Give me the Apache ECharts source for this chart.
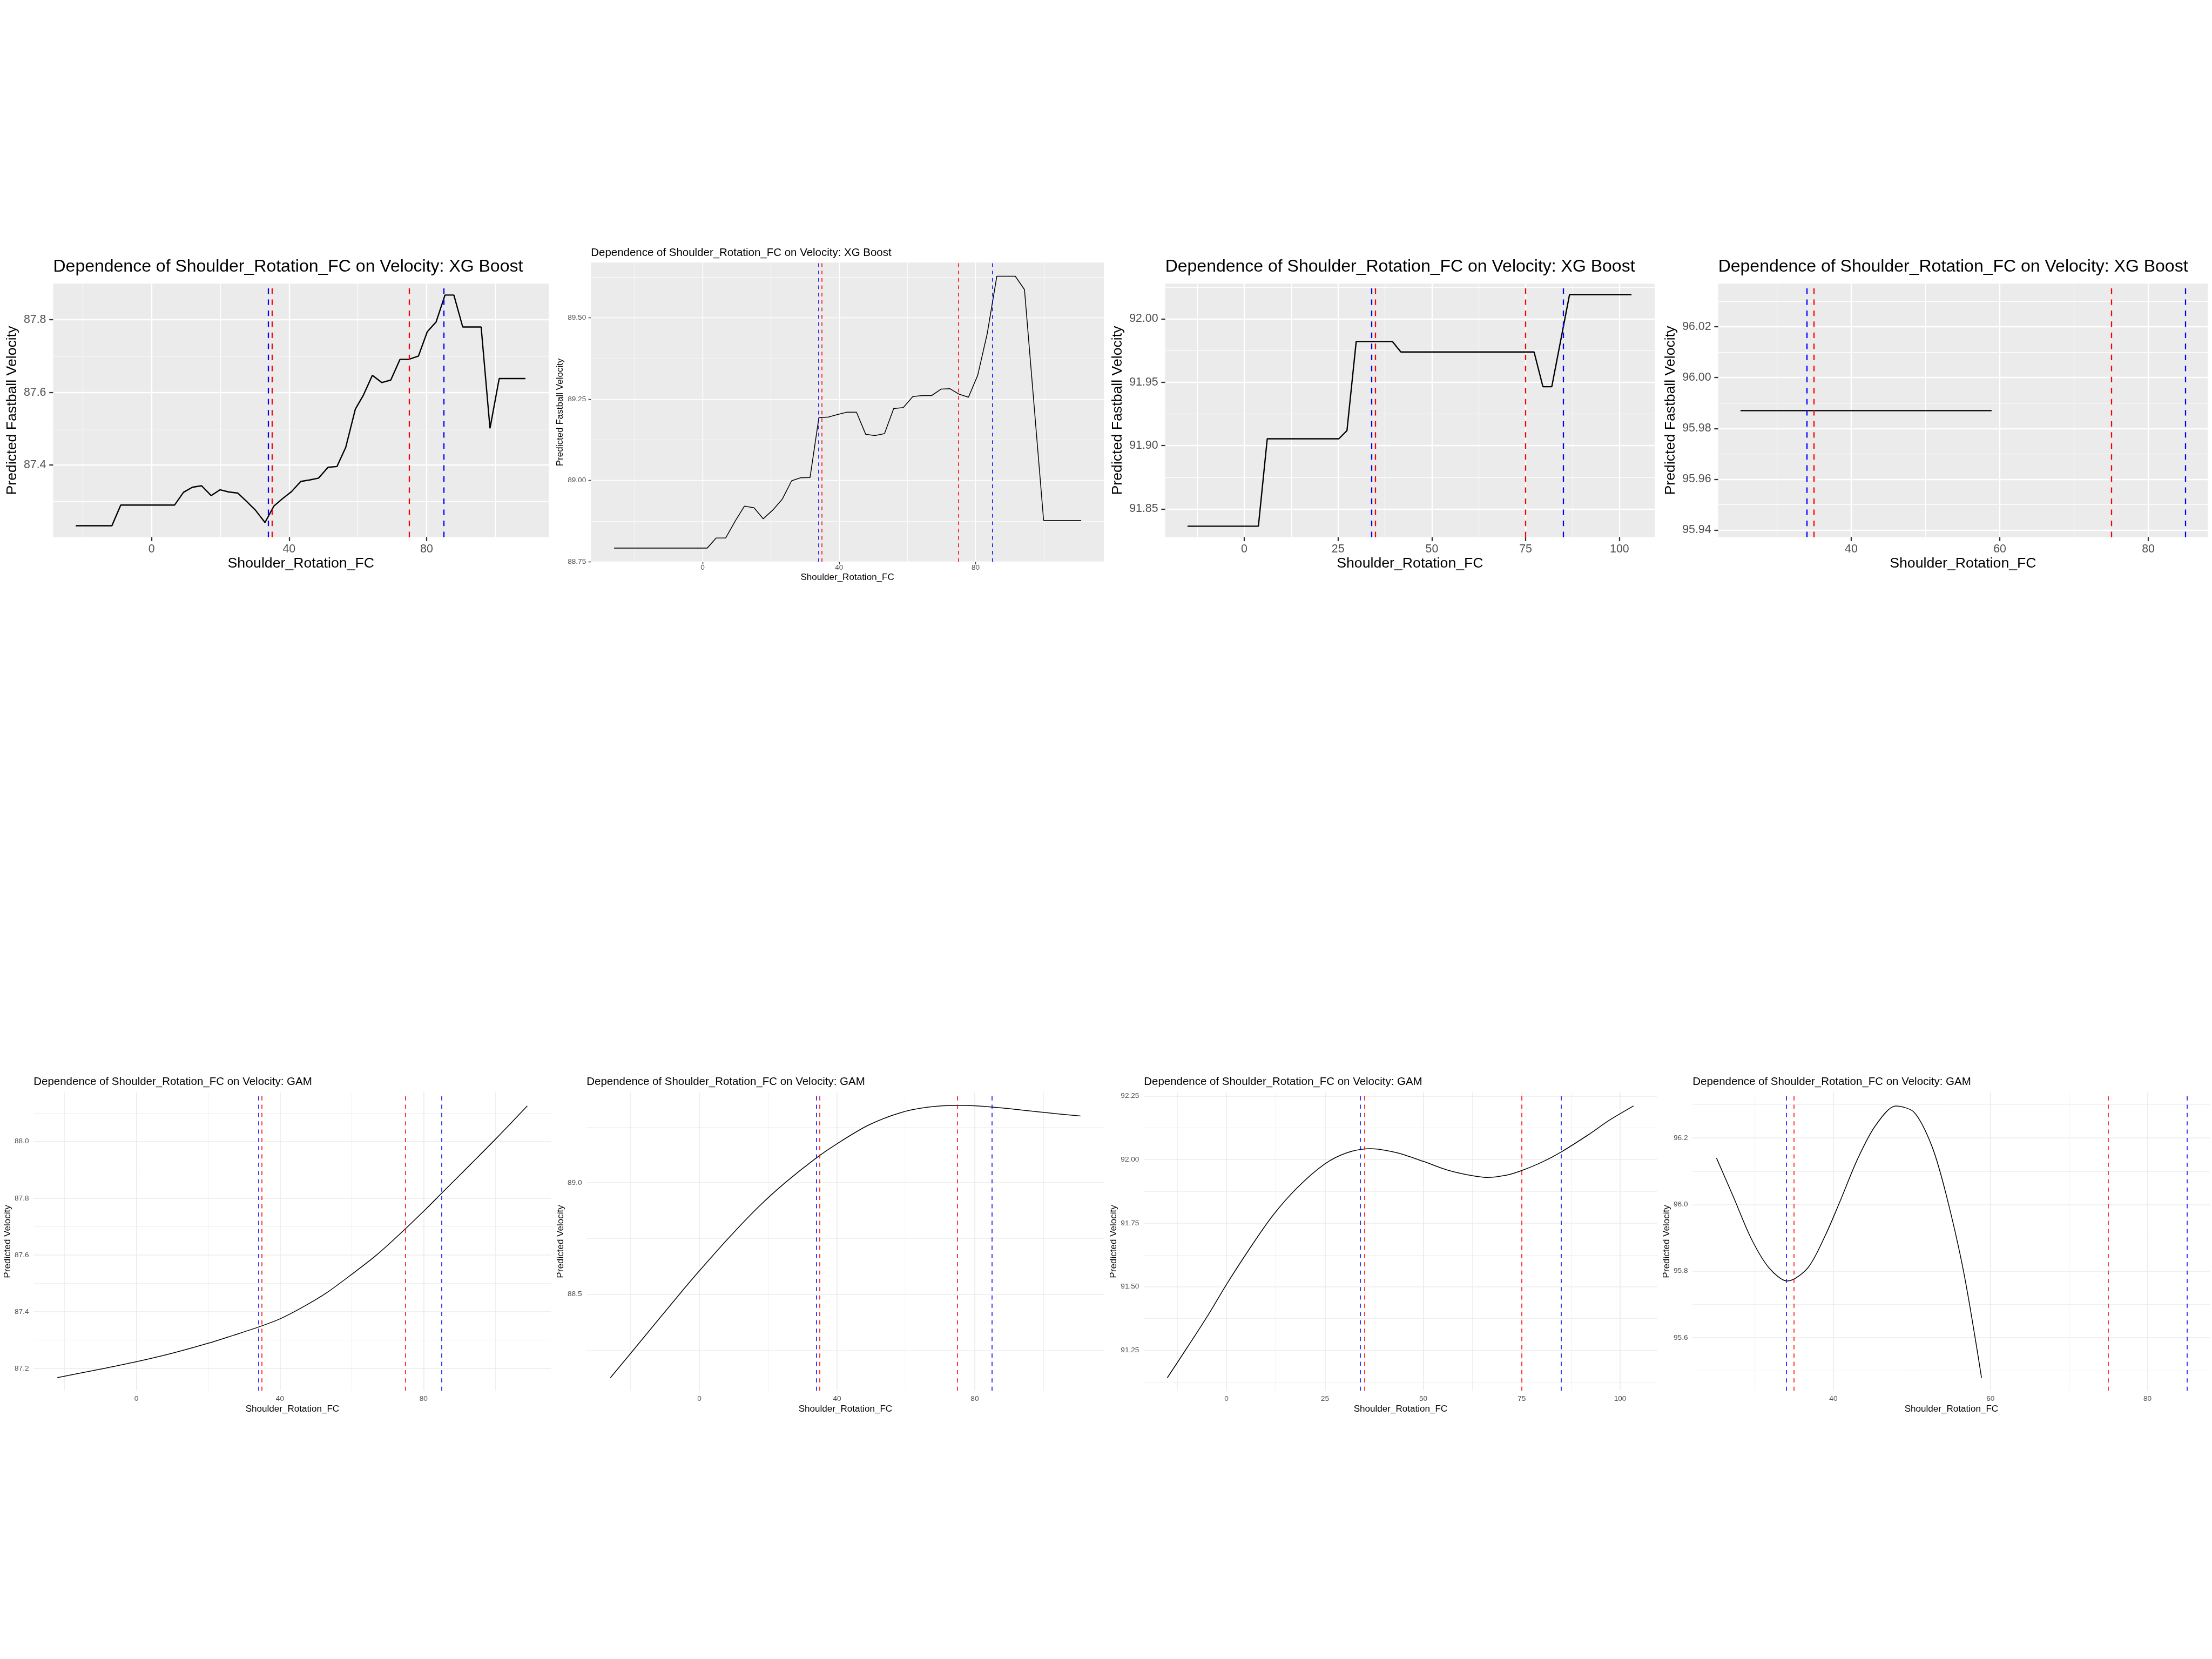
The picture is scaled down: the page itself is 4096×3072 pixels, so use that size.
<!DOCTYPE html>
<html><head><meta charset="utf-8">
<script src="https://cdn.jsdelivr.net/npm/echarts@6/dist/echarts.min.js"></script>
<style>html,body{margin:0;padding:0;background:#fff}#c{width:4096px;height:3072px}</style>
</head><body><div id="c"></div>
<script>
// ---------------- DATA ----------------
const TITLE_XGB = 'Dependence of Shoulder_Rotation_FC on Velocity: XG Boost';
const TITLE_GAM = 'Dependence of Shoulder_Rotation_FC on Velocity: GAM';
const X_NAME = 'Shoulder_Rotation_FC';
const Y_NAME_XGB = 'Predicted Fastball Velocity';
const Y_NAME_GAM = 'Predicted Velocity';

const redLines = [35, 75];
const blueLines = [34, 85];

// Panel 1: XG Boost
const xgb1X = [-22.06, -11.55, -8.97, 6.70, 9.28, 11.86, 14.54, 17.32, 19.90, 22.47, 25.05, 27.63, 30.21, 32.99, 35.57, 38.14, 40.72, 43.40, 45.98, 48.56, 51.34, 53.92, 56.49, 59.28, 61.65, 64.23, 67.01, 69.59, 72.27, 74.85, 77.63, 80.21, 82.78, 85.36, 87.94, 90.52, 95.88, 98.45, 101.13, 108.76];
const xgb1Y = [87.233, 87.233, 87.290, 87.290, 87.325, 87.339, 87.343, 87.316, 87.332, 87.326, 87.323, 87.300, 87.276, 87.242, 87.287, 87.308, 87.327, 87.355, 87.359, 87.364, 87.394, 87.396, 87.449, 87.554, 87.593, 87.647, 87.627, 87.634, 87.691, 87.691, 87.700, 87.767, 87.794, 87.868, 87.868, 87.780, 87.780, 87.501, 87.638, 87.638];
// Panel 2: XG Boost
const xgb2X = [-25.97, 1.35, 3.95, 6.75, 9.66, 12.26, 15.06, 17.77, 20.57, 23.38, 26.08, 28.68, 31.48, 34.08, 36.88, 39.58, 42.29, 45.09, 47.79, 50.49, 53.30, 56.00, 58.81, 61.61, 64.42, 67.12, 69.92, 72.52, 75.22, 77.92, 80.62, 83.43, 86.23, 91.64, 94.34, 99.95, 110.96];
const xgb2Y = [88.792, 88.792, 88.823, 88.823, 88.877, 88.921, 88.916, 88.882, 88.909, 88.943, 88.999, 89.008, 89.009, 89.193, 89.195, 89.203, 89.210, 89.210, 89.142, 89.138, 89.144, 89.221, 89.224, 89.258, 89.261, 89.261, 89.281, 89.282, 89.265, 89.256, 89.323, 89.452, 89.628, 89.628, 89.587, 88.877, 88.877];
// Panel 3: XG Boost
const xgb3X = [-15.11, 3.78, 6.14, 25.21, 27.38, 29.84, 39.47, 41.74, 77.24, 79.60, 81.96, 86.69, 103.2];
const xgb3Y = [91.8364, 91.8364, 91.9054, 91.9054, 91.9118, 91.9822, 91.9822, 91.9739, 91.9739, 91.9465, 91.9465, 92.0192, 92.0192];
// Panel 4: XG Boost
const xgb4X = [25.1, 58.9];
const xgb4Y = [95.987, 95.987];
// Panel 5: GAM
const gam1X = [-22.03, -10, 0, 10, 20, 27, 34, 40, 46, 53, 60, 67, 74, 80.5, 85, 93.3, 100.2, 108.9];
const gam1Y = [87.168, 87.198, 87.224, 87.254, 87.289, 87.317, 87.346, 87.375, 87.414, 87.467, 87.532, 87.601, 87.681, 87.760, 87.817, 87.922, 88.010, 88.125];
// Panel 6: GAM
const gam2X = [-25.85, -16.79, -5.8, 0, 8.96, 17.19, 24.9, 33.67, 40, 49.1, 58.4, 66.6, 75.9, 85.15, 99.6, 110.7];
const gam2Y = [88.126, 88.295, 88.500, 88.605, 88.760, 88.892, 89.000, 89.108, 89.175, 89.258, 89.314, 89.339, 89.347, 89.339, 89.316, 89.299];
// Panel 7: GAM
const gam3X = [-15.04, -9.9, -4.5, 0, 5.41, 11.71, 18.02, 25, 30.63, 36.49, 43.24, 50, 55.84, 61.25, 66.2, 71.16, 75, 80.16, 85.03, 91.87, 97.28, 103.4];
const gam3Y = [91.142, 91.263, 91.393, 91.509, 91.639, 91.779, 91.890, 91.983, 92.027, 92.043, 92.027, 91.993, 91.960, 91.940, 91.930, 91.939, 91.957, 91.990, 92.030, 92.097, 92.155, 92.211];
// Panel 8: GAM
const gam4X = [25.11, 27.27, 29.53, 31.79, 34.14, 36.76, 39.01, 40.82, 43.07, 45.33, 47.95, 50.29, 52.55, 54.36, 56.61, 58.87];
const gam4Y = [96.140, 96.023, 95.898, 95.810, 95.770, 95.810, 95.909, 96.008, 96.136, 96.236, 96.296, 96.277, 96.175, 96.030, 95.795, 95.479];

// Tick values
const xTicksA = [0, 40, 80];          const xMinorA = [-20, 20, 60, 100];
const xTicksB = [0, 25, 50, 75, 100]; const xMinorB = [-12.5, 12.5, 37.5, 62.5, 87.5];
const xTicksC = [40, 60, 80];         const xMinorC = [30, 50, 70];
const yTicks1 = [87.4, 87.6, 87.8];                  const yMinor1 = [87.3, 87.5, 87.7];
const yTicks2 = [88.75, 89.00, 89.25, 89.50];        const yMinor2 = [88.875, 89.125, 89.375, 89.625];
const yTicks3 = [91.85, 91.90, 91.95, 92.00];        const yMinor3 = [91.875, 91.925, 91.975, 92.025];
const yTicks4 = [95.94, 95.96, 95.98, 96.00, 96.02]; const yMinor4 = [95.95, 95.97, 95.99, 96.01, 96.03];
const yTicks5 = [87.2, 87.4, 87.6, 87.8, 88.0];      const yMinor5 = [87.3, 87.5, 87.7, 87.9, 88.1];
const yTicks6 = [88.5, 89.0];                        const yMinor6 = [88.25, 88.75, 89.25];
const yTicks7 = [91.25, 91.50, 91.75, 92.00, 92.25]; const yMinor7 = [91.125, 91.375, 91.625, 91.875, 92.125];
const yTicks8 = [95.6, 95.8, 96.0, 96.2];            const yMinor8 = [95.5, 95.7, 95.9, 96.1, 96.3];

// ---------------- LAYOUT (reference pixels, scaled by S) ----------------
const S = 4096 / 4800;
const FONT = '"Liberation Sans", Arial, sans-serif';

const styles = {
  big:     { bg: '#EBEBEB', grid: '#FFFFFF', major: 2.7, minor: 1.35, tick: true, tickLen: 8.5, tickW: 2.7,
             tickFont: 25, titleFont: 37.5, nameFont: 31.3, xLabelMargin: 13.3, yLabelMargin: 15.3, xNameGap: 41.2,
             lineW: 2.8, vW: 2.7, dash: [12, 12] },
  small:   { bg: '#EBEBEB', grid: '#FFFFFF', major: 1.75, minor: 0.9, tick: true, tickLen: 5.4, tickW: 1.75,
             tickFont: 16, titleFont: 24, nameFont: 20, xLabelMargin: 4.7, yLabelMargin: 10.5, xNameGap: 23.7,
             lineW: 1.8, vW: 1.8, dash: [8, 8] },
  minimal: { bg: 'transparent', grid: '#EBEBEB', major: 1.9, minor: 0.95, tick: false, tickLen: 0, tickW: 0,
             tickFont: 16, titleFont: 24, nameFont: 20, xLabelMargin: 10, yLabelMargin: 10.3, xNameGap: 29.4,
             lineW: 1.8, vW: 1.8, dash: [9, 9] }
};

const panels = [
  { st: 'big',   box: [115.4, 615.4, 1190.8, 1165.7], xr: [-28.63, 115.55], yr: [87.2015, 87.8995], xs: xgb1X, ys: xgb1Y,
    xt: xTicksA, xm: xMinorA, yt: yTicks1, ym: yMinor1, dec: 1, yNameGap: 73.6, titleCY: 579.5, title: TITLE_XGB, yName: Y_NAME_XGB, smooth: false },
  { st: 'small', box: [1282.3, 569.8, 2395.3, 1219.3], xr: [-32.75, 117.6], yr: [88.7495, 89.670], xs: xgb2X, ys: xgb2Y,
    xt: xTicksA, xm: xMinorA, yt: yTicks2, ym: yMinor2, dec: 2, yNameGap: 56.3, titleCY: 548.5, title: TITLE_XGB, yName: Y_NAME_XGB, smooth: false },
  { st: 'big',   box: [2528.5, 615.4, 3590.8, 1165.7], xr: [-21.05, 109.4], yr: [91.8277, 92.0279], xs: xgb3X, ys: xgb3Y,
    xt: xTicksB, xm: xMinorB, yt: yTicks3, ym: yMinor3, dec: 2, yNameGap: 87, titleCY: 579.5, title: TITLE_XGB, yName: Y_NAME_XGB, smooth: false },
  { st: 'big',   box: [3728.5, 615.4, 4790.8, 1165.7], xr: [22.1, 88.0], yr: [95.9372, 96.037], xs: xgb4X, ys: xgb4Y,
    xt: xTicksC, xm: xMinorC, yt: yTicks4, ym: yMinor4, dec: 2, yNameGap: 87, titleCY: 579.5, title: TITLE_XGB, yName: Y_NAME_XGB, smooth: false },
  { st: 'minimal', box: [73, 2370, 1196, 3018], xr: [-28.63, 115.55], yr: [87.1216, 88.1735], xs: gam1X, ys: gam1Y,
    xt: xTicksA, xm: xMinorA, yt: yTicks5, ym: yMinor5, dec: 1, yNameGap: 46.7, titleCY: 2347.5, title: TITLE_GAM, yName: Y_NAME_GAM, smooth: 0.3 },
  { st: 'minimal', box: [1273, 2370, 2396, 3018], xr: [-32.75, 117.6], yr: [88.0676, 89.406], xs: gam2X, ys: gam2Y,
    xt: xTicksA, xm: xMinorA, yt: yTicks6, ym: yMinor6, dec: 1, yNameGap: 46.7, titleCY: 2347.5, title: TITLE_GAM, yName: Y_NAME_GAM, smooth: 0.3 },
  { st: 'minimal', box: [2482.3, 2370, 3596, 3018], xr: [-20.98, 109.4], yr: [91.0908, 92.265], xs: gam3X, ys: gam3Y,
    xt: xTicksB, xm: xMinorB, yt: yTicks7, ym: yMinor7, dec: 2, yNameGap: 56, titleCY: 2347.5, title: TITLE_GAM, yName: Y_NAME_GAM, smooth: 0.3 },
  { st: 'minimal', box: [3673, 2370, 4796, 3018], xr: [22.08, 87.98], yr: [95.44, 96.3377], xs: gam4X, ys: gam4Y,
    xt: xTicksC, xm: xMinorC, yt: yTicks8, ym: yMinor8, dec: 1, yNameGap: 46.7, titleCY: 2347.5, title: TITLE_GAM, yName: Y_NAME_GAM, smooth: 0.3 }
];

const grids = [], xAxes = [], yAxes = [], series = [], titles = [];

panels.forEach((p, i) => {
  const st = styles[p.st];
  const [L, T, R, B] = p.box;
  grids.push({ left: L * S, top: T * S, width: (R - L) * S, height: (B - T) * S,
    show: st.bg !== 'transparent', backgroundColor: st.bg, borderWidth: 0, containLabel: false, outerBoundsMode: 'none' });

  titles.push({ text: p.title, left: L * S, top: (p.titleCY - st.titleFont / 2) * S, padding: 0,
    textStyle: { fontFamily: FONT, fontSize: st.titleFont * S, lineHeight: st.titleFont * S, fontWeight: 'normal', color: '#000000' } });

  const tickStyle = { show: st.tick, length: st.tickLen * S, lineStyle: { color: '#333333', width: st.tickW * S } };
  const labelBase = { fontFamily: FONT, fontSize: st.tickFont * S, lineHeight: st.tickFont * S, color: '#4D4D4D' };
  const nameStyle = { fontFamily: FONT, fontSize: st.nameFont * S, lineHeight: st.nameFont * S, color: '#000000' };
  const noLine = { show: false, onZero: false };

  // major x
  xAxes.push({ type: 'value', gridIndex: i, min: p.xr[0], max: p.xr[1], position: 'bottom',
    axisLine: noLine,
    axisTick: Object.assign({ customValues: p.xt }, tickStyle),
    axisLabel: Object.assign({ customValues: p.xt, margin: st.xLabelMargin * S, formatter: v => String(v) }, labelBase),
    splitLine: { show: true, lineStyle: { color: st.grid, width: st.major * S } },
    name: X_NAME, nameLocation: 'middle', nameGap: st.xNameGap * S, nameTextStyle: nameStyle, nameMoveOverlap: false, z: 1 });
  // minor x
  xAxes.push({ type: 'value', gridIndex: i, min: p.xr[0], max: p.xr[1], position: 'bottom',
    axisLine: noLine, axisTick: { show: false, customValues: p.xm }, axisLabel: { show: false, customValues: p.xm },
    splitLine: { show: true, lineStyle: { color: st.grid, width: st.minor * S } }, z: 0 });
  // major y
  yAxes.push({ type: 'value', gridIndex: i, min: p.yr[0], max: p.yr[1], position: 'left',
    axisLine: noLine,
    axisTick: Object.assign({ customValues: p.yt }, tickStyle),
    axisLabel: Object.assign({ customValues: p.yt, margin: st.yLabelMargin * S, formatter: v => v.toFixed(p.dec) }, labelBase),
    splitLine: { show: true, lineStyle: { color: st.grid, width: st.major * S } },
    name: p.yName, nameLocation: 'middle', nameGap: p.yNameGap * S, nameTextStyle: nameStyle, nameMoveOverlap: false, z: 1 });
  // minor y
  yAxes.push({ type: 'value', gridIndex: i, min: p.yr[0], max: p.yr[1], position: 'left',
    axisLine: noLine, axisTick: { show: false, customValues: p.ym }, axisLabel: { show: false, customValues: p.ym },
    splitLine: { show: true, lineStyle: { color: st.grid, width: st.minor * S } }, z: 0 });

  const vlines = [];
  blueLines.forEach(v => vlines.push({ xAxis: v, lineStyle: { color: '#0000FF' } }));
  redLines.forEach(v => vlines.push({ xAxis: v, lineStyle: { color: '#FF0000' } }));

  series.push({
    type: 'line', xAxisIndex: 2 * i, yAxisIndex: 2 * i,
    data: p.xs.map((x, k) => [x, p.ys[k]]),
    symbol: 'none', showSymbol: false, smooth: p.smooth,
    lineStyle: { color: '#000000', width: st.lineW * S },
    z: 3, silent: true,
    markLine: { symbol: ['none', 'none'], silent: true, animation: false, label: { show: false },
      lineStyle: { type: st.dash.map(d => d * S), width: st.vW * S },
      emphasis: { disabled: true },
      data: vlines }
  });
});

const chart = echarts.init(document.getElementById('c'), null, { renderer: 'canvas' });
chart.setOption({
  animation: false,
  backgroundColor: '#FFFFFF',
  textStyle: { fontFamily: FONT },
  title: titles,
  grid: grids,
  xAxis: xAxes,
  yAxis: yAxes,
  series: series
});
</script>
</body></html>
